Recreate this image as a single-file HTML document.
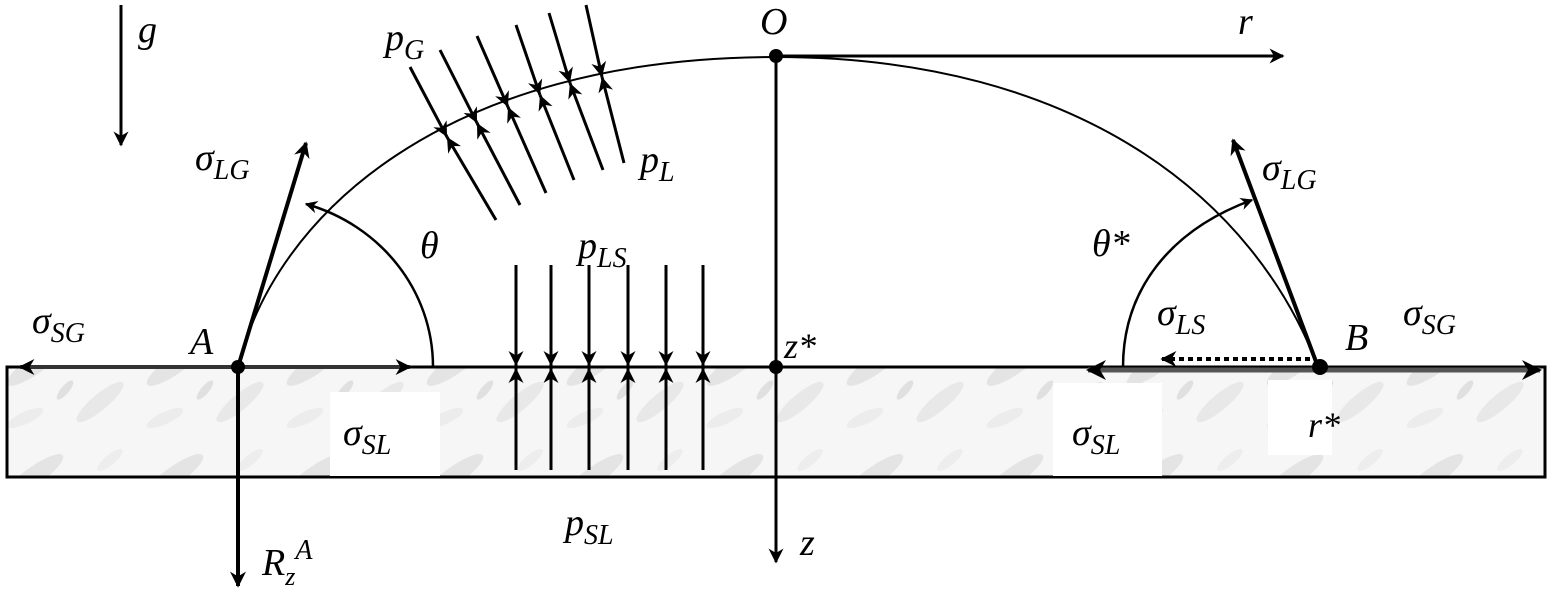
<!DOCTYPE html>
<html><head><meta charset="utf-8"><style>
html,body{margin:0;padding:0;background:#fff;}
svg{display:block;}
text{font-family:"Liberation Serif","DejaVu Serif","Noto Serif CJK SC",serif;font-style:italic;fill:#000;}
</style></head><body>
<svg width="1553" height="598" viewBox="0 0 1553 598" xmlns="http://www.w3.org/2000/svg">
<defs>
<marker id="ahb" viewBox="0 0 10 10" refX="9" refY="5" markerWidth="7" markerHeight="5" orient="auto"><path d="M0,0 L10,5 L0,10 L3,5 z" fill="#000"/></marker>
<marker id="ah4" viewBox="0 0 10 10" refX="9" refY="5" markerWidth="5.5" markerHeight="4" orient="auto"><path d="M0,0 L10,5 L0,10 L3,5 z" fill="#000"/></marker>
<marker id="ahs" viewBox="0 0 10 10" refX="10" refY="5" markerWidth="6.5" markerHeight="5" orient="auto"><path d="M0,0 L10,5 L0,10 L3,5 z" fill="#000"/></marker>
<pattern id="tex" width="140" height="110" patternUnits="userSpaceOnUse">
<rect width="140" height="110" fill="#f6f6f6"/>
<ellipse cx="35" cy="35" rx="34" ry="9" fill="#e4e4e4" transform="rotate(-35 35 35)"/>
<ellipse cx="100" cy="72" rx="30" ry="8" fill="#e8e8e8" transform="rotate(-40 100 72)"/>
<ellipse cx="25" cy="88" rx="20" ry="6" fill="#ececec" transform="rotate(-25 25 88)"/>
<ellipse cx="110" cy="20" rx="16" ry="5" fill="#ededed" transform="rotate(-40 110 20)"/>
<ellipse cx="65" cy="60" rx="12" ry="4" fill="#e0e0e0" transform="rotate(-50 65 60)"/>
</pattern>
</defs>
<rect x="7" y="367" width="1538" height="110" fill="url(#tex)" stroke="#000" stroke-width="3"/>
<rect x="330" y="392" width="110" height="84" fill="#fff"/>
<rect x="1053" y="383" width="109" height="93" fill="#fff"/>
<rect x="1268" y="380" width="64" height="75" fill="#fff"/>
<line x1="7" y1="367" x2="1545" y2="367" stroke="#000" stroke-width="3"/>

<line x1="121" y1="5" x2="121" y2="145" stroke="#000" stroke-width="3" marker-end="url(#ahb)"/>
<text x="138" y="42" font-size="38">g</text>

<path d="M238,367 C275,215 445,57 776,57 C1080,57 1255,200 1318,367" fill="none" stroke="#000" stroke-width="2"/>

<line x1="776" y1="56" x2="1283" y2="56" stroke="#000" stroke-width="3" marker-end="url(#ahb)"/>
<line x1="776" y1="56" x2="776" y2="562" stroke="#000" stroke-width="3" marker-end="url(#ahb)"/>
<circle cx="776" cy="56" r="7"/>
<circle cx="776" cy="367" r="7"/>
<text x="760" y="34" font-size="38">O</text>
<text x="1238" y="34" font-size="38">r</text>
<text x="784" y="358" font-size="36">z*</text>
<text x="800" y="555" font-size="38">z</text>

<line x1="238" y1="367" x2="20" y2="367" stroke="#333" stroke-width="4" marker-end="url(#ah4)"/>
<line x1="238" y1="367" x2="410" y2="367" stroke="#333" stroke-width="4" marker-end="url(#ah4)"/>
<line x1="238" y1="367" x2="238" y2="586" stroke="#000" stroke-width="4" marker-end="url(#ah4)"/>
<line x1="238" y1="367" x2="306" y2="143" stroke="#000" stroke-width="4" marker-end="url(#ah4)"/>
<path d="M433,367 C433,290 380,225 306,204" fill="none" stroke="#000" stroke-width="2.5" marker-end="url(#ahb)"/>
<circle cx="238" cy="367" r="7"/>
<text x="190" y="354" font-size="38">A</text>
<text x="32" y="333" font-size="38">σ<tspan font-size="28" dy="9">SG</tspan></text>
<text x="195" y="170" font-size="38">σ<tspan font-size="28" dy="9">LG</tspan></text>
<text x="420" y="258" font-size="38">θ</text>
<text x="343" y="445" font-size="38">σ<tspan font-size="28" dy="9">SL</tspan></text>
<text x="262" y="575" font-size="38">R<tspan font-size="26" dy="10">z</tspan><tspan font-size="28" dy="-26">A</tspan></text>

<g stroke="#000" stroke-width="3">
<line x1="410" y1="67" x2="447" y2="137" marker-end="url(#ahs)"/><line x1="496" y1="220" x2="447" y2="137" marker-end="url(#ahs)"/>
<line x1="440" y1="50" x2="477" y2="123" marker-end="url(#ahs)"/><line x1="520" y1="205" x2="477" y2="123" marker-end="url(#ahs)"/>
<line x1="477" y1="36" x2="508" y2="107" marker-end="url(#ahs)"/><line x1="546" y1="193" x2="508" y2="107" marker-end="url(#ahs)"/>
<line x1="516" y1="25" x2="540" y2="95" marker-end="url(#ahs)"/><line x1="574" y1="180" x2="540" y2="95" marker-end="url(#ahs)"/>
<line x1="549" y1="13" x2="570" y2="83" marker-end="url(#ahs)"/><line x1="603" y1="170" x2="570" y2="83" marker-end="url(#ahs)"/>
<line x1="586" y1="5" x2="602" y2="77" marker-end="url(#ahs)"/><line x1="624" y1="163" x2="602" y2="77" marker-end="url(#ahs)"/>
</g>
<text x="385" y="50" font-size="38">p<tspan font-size="28" dy="9">G</tspan></text>
<text x="640" y="172" font-size="38">p<tspan font-size="28" dy="9">L</tspan></text>

<g stroke="#000" stroke-width="3">
<line x1="516" y1="265" x2="516" y2="366" marker-end="url(#ahs)"/><line x1="516" y1="470" x2="516" y2="368" marker-end="url(#ahs)"/>
<line x1="551" y1="265" x2="551" y2="366" marker-end="url(#ahs)"/><line x1="551" y1="470" x2="551" y2="368" marker-end="url(#ahs)"/>
<line x1="589" y1="265" x2="589" y2="366" marker-end="url(#ahs)"/><line x1="589" y1="470" x2="589" y2="368" marker-end="url(#ahs)"/>
<line x1="628" y1="265" x2="628" y2="366" marker-end="url(#ahs)"/><line x1="628" y1="470" x2="628" y2="368" marker-end="url(#ahs)"/>
<line x1="666" y1="265" x2="666" y2="366" marker-end="url(#ahs)"/><line x1="666" y1="470" x2="666" y2="368" marker-end="url(#ahs)"/>
<line x1="703" y1="265" x2="703" y2="366" marker-end="url(#ahs)"/><line x1="703" y1="470" x2="703" y2="368" marker-end="url(#ahs)"/>
</g>
<text x="578" y="258" font-size="38">p<tspan font-size="28" dy="9">LS</tspan></text>
<text x="565" y="535" font-size="38">p<tspan font-size="28" dy="9">SL</tspan></text>

<line x1="1318" y1="370" x2="1088" y2="370" stroke="#555" stroke-width="5" marker-end="url(#ah4)"/>
<line x1="1318" y1="370" x2="1540" y2="370" stroke="#555" stroke-width="5" marker-end="url(#ah4)"/>
<line x1="1310" y1="359" x2="1162" y2="359" stroke="#000" stroke-width="4" stroke-dasharray="5,4" marker-end="url(#ah4)"/>
<line x1="1318" y1="367" x2="1233" y2="140" stroke="#000" stroke-width="4" marker-end="url(#ah4)"/>
<path d="M1123,367 C1123,290 1170,230 1252,200" fill="none" stroke="#000" stroke-width="2.5" marker-end="url(#ahb)"/>
<circle cx="1320" cy="367" r="8"/>
<text x="1345" y="350" font-size="38">B</text>
<text x="1262" y="180" font-size="38">σ<tspan font-size="28" dy="9">LG</tspan></text>
<text x="1092" y="256" font-size="38">θ*</text>
<text x="1157" y="325" font-size="38">σ<tspan font-size="28" dy="9">LS</tspan></text>
<text x="1403" y="325" font-size="38">σ<tspan font-size="28" dy="9">SG</tspan></text>
<text x="1072" y="445" font-size="38">σ<tspan font-size="28" dy="9">SL</tspan></text>
<text x="1308" y="437" font-size="36">r*</text>
</svg>
</body></html>
